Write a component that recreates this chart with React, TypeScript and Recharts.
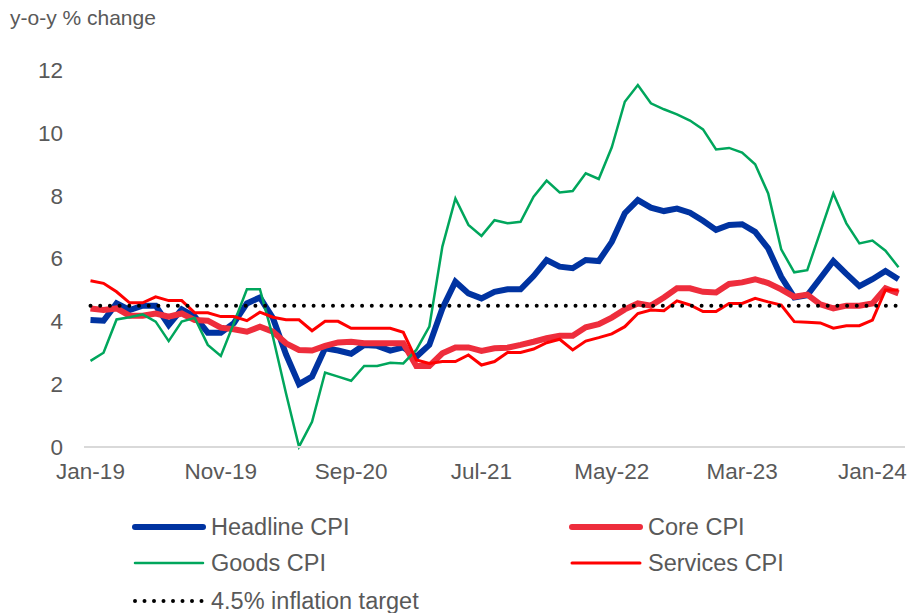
import React from 'react';
import { LineChart, Line, XAxis, YAxis, ReferenceLine } from 'recharts';

const months = [
    'Jan-19', 'Feb-19', 'Mar-19', 'Apr-19', 'May-19', 'Jun-19', 'Jul-19', 'Aug-19', 'Sep-19', 'Oct-19', 'Nov-19', 'Dec-19',
    'Jan-20', 'Feb-20', 'Mar-20', 'Apr-20', 'May-20', 'Jun-20', 'Jul-20', 'Aug-20', 'Sep-20', 'Oct-20', 'Nov-20', 'Dec-20',
    'Jan-21', 'Feb-21', 'Mar-21', 'Apr-21', 'May-21', 'Jun-21', 'Jul-21', 'Aug-21', 'Sep-21', 'Oct-21', 'Nov-21', 'Dec-21',
    'Jan-22', 'Feb-22', 'Mar-22', 'Apr-22', 'May-22', 'Jun-22', 'Jul-22', 'Aug-22', 'Sep-22', 'Oct-22', 'Nov-22', 'Dec-22',
    'Jan-23', 'Feb-23', 'Mar-23', 'Apr-23', 'May-23', 'Jun-23', 'Jul-23', 'Aug-23', 'Sep-23', 'Oct-23', 'Nov-23', 'Dec-23',
    'Jan-24', 'Feb-24', 'Mar-24',
];

const headline = [
    4.04, 4.02, 4.57, 4.36, 4.5, 4.5, 3.88, 4.38, 4.15, 3.64, 3.64, 3.94,
    4.57, 4.76, 4.1, 2.95, 2.0, 2.24, 3.14, 3.07, 2.97, 3.25, 3.22, 3.07,
    3.17, 2.87, 3.25, 4.41, 5.26, 4.89, 4.73, 4.94, 5.02, 5.02, 5.44, 5.95,
    5.74, 5.69, 5.95, 5.92, 6.53, 7.44, 7.86, 7.62, 7.51, 7.59, 7.46, 7.2,
    6.91, 7.07, 7.09, 6.85, 6.32, 5.42, 4.76, 4.83, 5.37, 5.92, 5.51, 5.12,
    5.34, 5.6, 5.34,
];

const core = [
    4.41, 4.36, 4.41, 4.18, 4.18, 4.25, 4.15, 4.25, 4.04, 4.02, 3.8, 3.75,
    3.67, 3.83, 3.67, 3.3, 3.09, 3.07, 3.22, 3.33, 3.35, 3.3, 3.3, 3.3,
    3.3, 2.58, 2.58, 2.98, 3.17, 3.17, 3.06, 3.14, 3.16, 3.25, 3.35, 3.46,
    3.54, 3.54, 3.81, 3.91, 4.12, 4.38, 4.57, 4.5, 4.76, 5.05, 5.05, 4.94,
    4.92, 5.19, 5.24, 5.34, 5.22, 5.02, 4.78, 4.85, 4.54, 4.41, 4.5, 4.5,
    4.57, 5.05, 4.89,
];

const goods = [
    2.74, 3.0, 4.06, 4.13, 4.22, 3.99, 3.37, 3.99, 4.11, 3.25, 2.9, 3.94,
    5.02, 5.02, 3.5, 1.71, 0.01, 0.8, 2.37, 2.24, 2.11, 2.58, 2.58, 2.68,
    2.66, 3.09, 3.83, 6.38, 7.91, 7.07, 6.72, 7.22, 7.12, 7.17, 7.97, 8.48,
    8.1, 8.15, 8.71, 8.53, 9.54, 10.99, 11.52, 10.94, 10.75, 10.59, 10.39, 10.11,
    9.47, 9.52, 9.37, 9.0, 8.07, 6.29, 5.56, 5.63, 6.85, 8.07, 7.12, 6.48,
    6.57, 6.25, 5.72,
];

const services = [
    5.29, 5.21, 4.94, 4.59, 4.59, 4.78, 4.66, 4.66, 4.27, 4.27, 4.15, 4.15,
    4.02, 4.29, 4.13, 4.05, 4.05, 3.7, 4.0, 4.0, 3.78, 3.78, 3.78, 3.78,
    3.65, 2.77, 2.66, 2.72, 2.72, 2.93, 2.61, 2.72, 3.01, 3.01, 3.12, 3.32,
    3.43, 3.09, 3.37, 3.48, 3.6, 3.83, 4.25, 4.36, 4.34, 4.65, 4.52, 4.31,
    4.31, 4.57, 4.57, 4.73, 4.62, 4.52, 3.99, 3.97, 3.95, 3.78, 3.86, 3.86,
    4.04, 5.0, 5.0,
];

const TARGET = 4.5;
const yTicks = [0, 2, 4, 6, 8, 10, 12];

const FONT = '"Liberation Sans", Arial, sans-serif';
const TEXT = '#595959';

const seriesStyle = [
    { key: 'headline', name: 'Headline CPI', color: '#0033A1', width: 6 },
    { key: 'core', name: 'Core CPI', color: '#EE2D3C', width: 6 },
    { key: 'goods', name: 'Goods CPI', color: '#00A65C', width: 2.5 },
    { key: 'services', name: 'Services CPI', color: '#FF0000', width: 3 },
];

const data = months.map((m, i) => ({
    month: m,
    headline: headline[i],
    core: core[i],
    goods: goods[i],
    services: services[i],
}));

const LegendItem = ({ x, y, color, width, name, dotted }: any) => (
    <div style={{ position: 'absolute', left: x, top: y - 15, height: 30, display: 'flex', alignItems: 'center' }}>
        <svg width={74} height={30} style={{ display: 'block' }}>
            {dotted ? (
                <line x1={3} y1={15} x2={70} y2={15} stroke="#000" strokeWidth={4} strokeDasharray="0 9.5" strokeLinecap="round" />
            ) : (
                <line x1={3} y1={15} x2={71} y2={15} stroke={color} strokeWidth={width} strokeLinecap="round" />
            )}
        </svg>
        <span style={{ marginLeft: 5, fontSize: 23.5, color: TEXT, fontFamily: FONT, whiteSpace: 'nowrap' }}>{name}</span>
    </div>
);

const App: React.FC = () => {
    return (
        <div style={{ position: 'absolute', left: 0, top: 0, width: 909, height: 613, background: '#fff', fontFamily: FONT }}>
            <div style={{ position: 'absolute', left: 10, top: 6, fontSize: 21, color: TEXT }}>y-o-y % change</div>
            <LineChart width={909} height={613} data={data} margin={{ top: 70, right: 4, left: 24, bottom: 136 }}>
                <XAxis
                    dataKey="month"
                    interval={9}
                    padding={{ left: 6.5, right: 6.5 }}
                    height={30}
                    tickLine={false}
                    tickSize={0}
                    tickMargin={16}
                    axisLine={{ stroke: '#D9D9D9', strokeWidth: 2 }}
                    tick={{ fill: TEXT, fontSize: 22.5, fontFamily: FONT }}
                />
                <YAxis
                    domain={[0, 12]}
                    ticks={yTicks}
                    width={60}
                    axisLine={false}
                    tickLine={false}
                    tickSize={0}
                    tickMargin={21}
                    tick={{ fill: TEXT, fontSize: 22.5, fontFamily: FONT }}
                />
                {seriesStyle.map((s) => (
                    <Line
                        key={s.key}
                        type="linear"
                        dataKey={s.key}
                        name={s.name}
                        stroke={s.color}
                        strokeWidth={s.width}
                        dot={false}
                        activeDot={false}
                        isAnimationActive={false}
                    />
                ))}
                <ReferenceLine
                    segment={[{ x: months[0], y: TARGET }, { x: months[months.length - 1], y: TARGET }]}
                    stroke="#000"
                    strokeWidth={4}
                    strokeDasharray="0 9.7"
                    strokeLinecap="round"
                />
            </LineChart>
            <LegendItem x={132} y={527} color={seriesStyle[0].color} width={6} name={seriesStyle[0].name} />
            <LegendItem x={569} y={527} color={seriesStyle[1].color} width={6} name={seriesStyle[1].name} />
            <LegendItem x={132} y={563} color={seriesStyle[2].color} width={2.5} name={seriesStyle[2].name} />
            <LegendItem x={569} y={563} color={seriesStyle[3].color} width={3} name={seriesStyle[3].name} />
            <LegendItem x={132} y={601} dotted name="4.5% inflation target" />
        </div>
    );
};

export default App;
